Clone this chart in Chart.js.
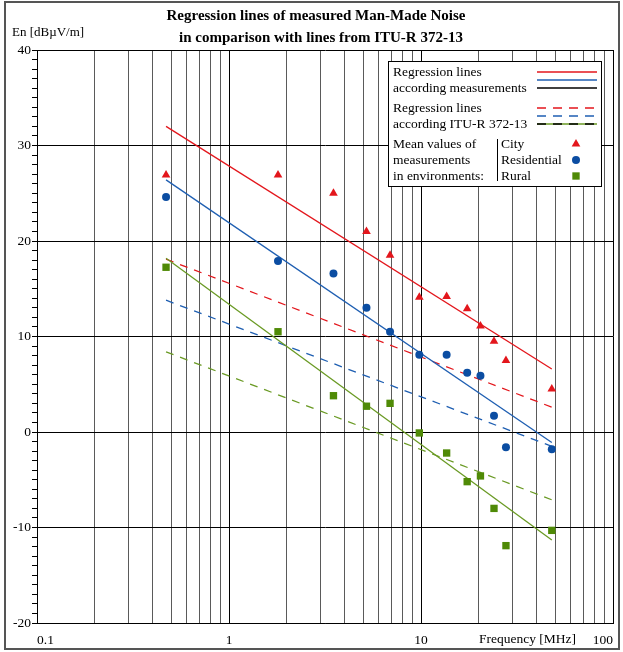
<!DOCTYPE html>
<html>
<head>
<meta charset="utf-8">
<script src="https://cdn.jsdelivr.net/npm/chart.js@4.4.0/dist/chart.umd.min.js"></script>
<style>
  body { margin: 0; background: #fff; }
</style>
</head>
<body>
<canvas id="noise-chart" width="623" height="652"></canvas>
<script>
const titleLines = ['Regression lines of measured Man-Made Noise', 'in comparison with lines from ITU-R 372-13']
const yAxisTitle = 'En [dBµV/m]'
const xAxisTitle = 'Frequency [MHz]'

// mean values of measurements
const measFreq = [0.47, 1.8, 3.5, 5.2, 6.9, 9.8, 13.6, 17.4, 20.4, 24, 27.7, 48]
const cityMean = [26.9, 26.9, 25.0, 21.0, 18.5, 14.1, 14.2, 12.9, 11.1, 9.5, 7.5, 4.5]
const residentialMean = [24.6, 17.9, 16.6, 13.0, 10.5, 8.1, 8.1, 6.2, 5.9, 1.7, -1.6, -1.8]
const ruralMean = [17.25, 10.5, 3.8, 2.7, 3.0, -0.1, -2.2, -5.2, -4.6, -8.0, -11.9, -10.3]

// regression lines, start and end point
const lineFreq = [0.47, 48]
const cityMeasured = [32.0, 6.6]
const residentialMeasured = [26.4, -1.1]
const ruralMeasured = [18.2, -11.3]
const cityItu = [18.1, 2.6]
const residentialItu = [13.8, -1.5]
const ruralItu = [8.4, -7.1]

const xTicks = [0.1, 0.2, 0.3, 0.4, 0.5, 0.6, 0.7, 0.8, 0.9,
  1, 2, 3, 4, 5, 6, 7, 8, 9,
  10, 20, 30, 40, 50, 60, 70, 80, 90, 100]
const xLabels = [0.1, 1, 10, 100]

const legendMeasured = ['Regression lines', 'according measurements']
const legendItu = ['Regression lines', 'according ITU-R 372-13']
const legendMeans = ['Mean values of', 'measurements', 'in environments:']
const environments = ['City', 'Residential', 'Rural']

const colors = {
  red: '#e3161c',
  blue: '#1f5fb2',
  blueDot: '#0b4da2',
  green: '#6a9a24',
  greenDot: '#4f8a06'
}
const serif = '"Liberation Serif", "Times New Roman", serif'

function points(xs, ys) {
  return xs.map((x, i) => ({ x: x, y: ys[i] }))
}

function markerSet(label, values, color, style, radius) {
  return {
    label: label,
    data: points(measFreq, values),
    showLine: false,
    pointStyle: style,
    pointRadius: radius,
    pointBackgroundColor: color,
    pointBorderWidth: 0,
    order: 0
  }
}

function lineSet(label, values, color, dashed) {
  return {
    label: label,
    data: points(lineFreq, values),
    showLine: true,
    borderColor: color,
    borderWidth: 1.3,
    borderDash: dashed ? [8, 7] : [],
    pointRadius: 0,
    fill: false,
    order: 1
  }
}

const decorPlugin = {
  id: 'decor',
  afterDraw(chart) {
    const ctx = chart.ctx
    ctx.save()

    // outer frame
    ctx.strokeStyle = '#555'
    ctx.lineWidth = 2
    ctx.strokeRect(5, 2, 614, 647)

    // title
    ctx.fillStyle = '#000'
    ctx.textAlign = 'center'
    ctx.textBaseline = 'middle'
    ctx.font = 'bold 15px ' + serif
    ctx.fillText(titleLines[0], 316, 16)
    ctx.fillText(titleLines[1], 321, 38)

    // axis titles
    ctx.textAlign = 'left'
    ctx.font = '13px ' + serif
    ctx.fillText(yAxisTitle, 12, 33)
    ctx.font = '13.5px ' + serif
    ctx.fillText(xAxisTitle, 479, 639)

    // legend box
    ctx.fillStyle = '#fff'
    ctx.fillRect(388, 61, 213, 125)
    ctx.strokeStyle = '#000'
    ctx.lineWidth = 1
    ctx.strokeRect(388.5, 61.5, 213, 125)

    ctx.fillStyle = '#000'
    ctx.font = '13.5px ' + serif
    ctx.fillText(legendMeasured[0], 393, 72)
    ctx.fillText(legendMeasured[1], 393, 88)
    ctx.fillText(legendItu[0], 393, 108)
    ctx.fillText(legendItu[1], 393, 124)
    legendMeans.forEach((t, i) => ctx.fillText(t, 393, 144 + i * 16))
    environments.forEach((t, i) => ctx.fillText(t, 501, 144 + i * 16))

    const seg = (color, y, dash) => {
      ctx.strokeStyle = color
      ctx.lineWidth = 1.4
      ctx.setLineDash(dash)
      ctx.beginPath()
      ctx.moveTo(537, y)
      ctx.lineTo(597, y)
      ctx.stroke()
    }
    seg(colors.red, 72, [])
    seg(colors.blue, 80, [])
    seg('#000', 88, [])
    seg(colors.red, 108, [9, 7])
    seg(colors.blue, 116, [9, 7])
    seg(colors.green, 124, [])
    seg('#000', 124, [9, 7])
    ctx.setLineDash([])

    // separator
    ctx.strokeStyle = '#000'
    ctx.lineWidth = 1
    ctx.beginPath()
    ctx.moveTo(497.5, 139)
    ctx.lineTo(497.5, 181)
    ctx.stroke()

    const marks = [
      ['triangle', colors.red, 5],
      ['circle', colors.blueDot, 4],
      ['rect', colors.greenDot, 5.2]
    ]
    marks.forEach((m, i) => {
      ctx.fillStyle = m[1]
      Chart.helpers.drawPoint(ctx, { pointStyle: m[0], radius: m[2], rotation: 0, borderWidth: 0 }, 576, 144 + i * 16)
    })

    ctx.restore()
  }
}

new Chart(document.getElementById('noise-chart'), {
  type: 'scatter',
  data: {
    datasets: [
      markerSet('City', cityMean, colors.red, 'triangle', 5),
      markerSet('Residential', residentialMean, colors.blueDot, 'circle', 4),
      markerSet('Rural', ruralMean, colors.greenDot, 'rect', 5.2),
      lineSet('City measured', cityMeasured, colors.red, false),
      lineSet('Residential measured', residentialMeasured, colors.blue, false),
      lineSet('Rural measured', ruralMeasured, colors.green, false),
      lineSet('City ITU-R', cityItu, colors.red, true),
      lineSet('Residential ITU-R', residentialItu, colors.blue, true),
      lineSet('Rural ITU-R', ruralItu, colors.green, true)
    ]
  },
  options: {
    responsive: false,
    animation: false,
    layout: {
      padding: { top: 50, right: 10, left: 0, bottom: 0 }
    },
    plugins: {
      legend: { display: false },
      tooltip: { enabled: false },
      title: { display: false }
    },
    scales: {
      x: {
        type: 'logarithmic',
        min: 0.1,
        max: 100,
        afterBuildTicks: scale => {
          scale.ticks = xTicks.map(v => ({ value: v }))
        },
        afterFit: scale => {
          scale.height = 29
          scale.paddingLeft = 0
          scale.paddingRight = 0
        },
        border: { color: '#000' },
        grid: {
          drawTicks: false,
          lineWidth: 1,
          color: ctx => xLabels.includes(ctx.tick && ctx.tick.value) ? '#000' : '#5a5a5a'
        },
        ticks: {
          autoSkip: false,
          maxRotation: 0,
          align: 'inner',
          padding: 9,
          color: '#000',
          font: { family: serif, size: 13.5 },
          callback: value => xLabels.includes(value) ? String(value) : ''
        }
      },
      y: {
        min: -20,
        max: 40,
        afterFit: scale => {
          scale.width = 37
        },
        border: { color: '#000' },
        grid: {
          lineWidth: 1,
          tickLength: 5,
          tickColor: '#000',
          color: ctx => ctx.tick && ctx.tick.value % 10 === 0 ? '#000' : 'rgba(0,0,0,0)'
        },
        ticks: {
          stepSize: 1,
          autoSkip: false,
          padding: 1,
          color: '#000',
          font: { family: serif, size: 13.5 },
          callback: value => value % 10 === 0 ? String(value) : ''
        }
      }
    }
  },
  plugins: [decorPlugin]
})
</script>
</body>
</html>
